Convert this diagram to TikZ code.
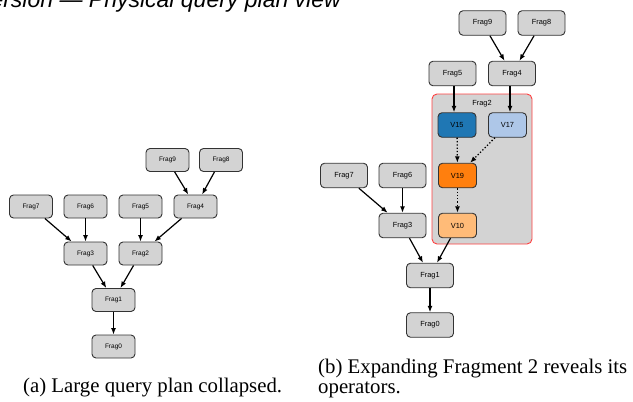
\documentclass[tikz,border=0pt]{standalone}
\usepackage{fontspec}
\setmainfont{Liberation Serif}
\newfontfamily\boxfont{Liberation Sans}
\usetikzlibrary{arrows.meta}
\definecolor{boxgray}{HTML}{D3D3D3}
\definecolor{boxline}{HTML}{333333}
\definecolor{cred}{HTML}{FF4040}
\definecolor{vblue}{HTML}{1F77B4}
\definecolor{vlblue}{HTML}{AEC7E8}
\definecolor{vorange}{HTML}{FF7F0E}
\definecolor{vlorange}{HTML}{FFBB78}
\tikzset{
  fragL/.style={draw=boxline, fill=boxgray, line width=0.9pt, rounded corners=4pt,
    minimum width=43pt, minimum height=23pt, inner sep=0pt, font=\boxfont\fontsize{6.5}{7}\selectfont},
  fragR/.style={fragL, minimum width=47pt, minimum height=24.5pt, font=\boxfont\fontsize{7.4}{8}\selectfont},
  vnode/.style={fragR, minimum width=38pt, minimum height=24.5pt},
  arr/.style={line width=1.2pt, -{Latex[length=6.5pt,width=5pt]}},
  darr/.style={line width=1.3pt, dotted, -{Latex[length=6.5pt,width=5pt]}},
  captext/.style={font=\fontsize{20.8}{20}\selectfont, anchor=base west, inner sep=0pt},
}
\begin{document}
\begin{tikzpicture}[x=1pt,y=-1pt]
\useasboundingbox (0,0) rectangle (633,402);
\clip (0,0) rectangle (633,402);
% cut-off heading
\node[anchor=base east, inner sep=0pt, font=\boxfont\itshape\fontsize{23}{23}\selectfont] (title) at (341,7) {Version — Physical query plan view};

% ---------- (a) ----------
\node[fragL] (a9) at (167.5,160) {Frag9};
\node[fragL] (a8) at (221,160) {Frag8};
\node[fragL] (a7) at (31,206.5) {Frag7};
\node[fragL] (a6) at (85.5,206.5) {Frag6};
\node[fragL] (a5) at (140.5,206.5) {Frag5};
\node[fragL] (a4) at (195.5,206.5) {Frag4};
\node[fragL] (a3) at (85.5,253.5) {Frag3};
\node[fragL] (a2) at (140.5,253.5) {Frag2};
\node[fragL] (a1) at (113.5,300) {Frag1};
\node[fragL] (a0) at (113.5,346.5) {Frag0};
\draw[arr] (a9) -- (a4);
\draw[arr] (a8) -- (a4);
\draw[arr] (a7) -- (a3);
\draw[arr] (a6) -- (a3);
\draw[arr] (a5) -- (a2);
\draw[arr] (a4) -- (a2);
\draw[arr] (a3) -- (a1);
\draw[arr] (a2) -- (a1);
\draw[arr] (a1) -- (a0);

% ---------- (b) ----------
\node[draw=cred, fill=boxgray, line width=0.9pt, rounded corners=5pt, minimum width=100pt, minimum height=150pt, inner sep=0pt] (cont) at (482,169) {};
\node[font=\boxfont\fontsize{7.4}{8}\selectfont, inner sep=0pt] (f2lab) at (482,104) {Frag2};
\node[fragR] (b9) at (482.5,23) {Frag9};
\node[fragR] (b8) at (541.5,23) {Frag8};
\node[fragR] (b5) at (452.5,73.5) {Frag5};
\node[fragR] (b4) at (512,73.5) {Frag4};
\node[vnode, fill=vblue] (v15) at (457,125) {V15};
\node[vnode, fill=vlblue] (v17) at (507.5,125) {V17};
\node[vnode, fill=vorange] (v19) at (457.5,175.5) {V19};
\node[vnode, fill=vlorange] (v10) at (457.5,225.5) {V10};
\node[fragR] (b7) at (344,175.5) {Frag7};
\node[fragR] (b6) at (402.5,175.5) {Frag6};
\node[fragR] (b3) at (402.5,225.5) {Frag3};
\node[fragR] (b1) at (430,275.5) {Frag1};
\node[fragR] (b0) at (430,325) {Frag0};
\draw[arr] (b9) -- (b4);
\draw[arr] (b8) -- (b4);
\draw[arr] (b5.south -| 454,0) -- (v15.north -| 454,0);
\draw[arr] (b4.south -| 510,0) -- (v17.north -| 510,0);
\draw[darr] (v15) -- (v19);
\draw[darr] (v17) -- (v19);
\draw[darr] (v19) -- (v10);
\draw[arr] (v10) -- (b1);
\draw[arr] (b7) -- (b3);
\draw[arr] (b6) -- (b3);
\draw[arr] (b3) -- (b1);
\draw[arr] (b1) -- (b0);

% captions
\node[captext] (capa) at (23,392) {(a) Large query plan collapsed.};
\node[captext] (capb1) at (318,373) {(b) Expanding Fragment 2 reveals its};
\node[captext] (capb2) at (318,393) {operators.};
\end{tikzpicture}
\end{document}
